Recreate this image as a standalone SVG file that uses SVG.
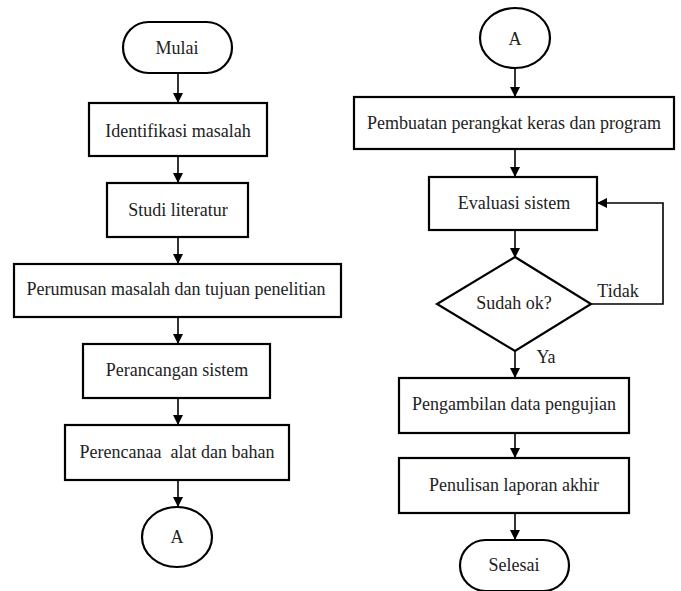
<svg xmlns="http://www.w3.org/2000/svg" width="681" height="591" viewBox="0 0 681 591">
<defs>
<marker id="ah" markerWidth="10" markerHeight="10" refX="9" refY="5" orient="auto" markerUnits="userSpaceOnUse">
<path d="M0,0 L10,5 L0,10 Z" fill="#000"/>
</marker>
<style>
.b{fill:#fff;stroke:#000;stroke-width:2.2}
.t{font-family:"Liberation Serif","DejaVu Serif","Noto Serif",Tinos,FreeSerif,Times,"Times New Roman",serif;font-size:18px;fill:#222;text-anchor:middle;dominant-baseline:central}
.ca{fill:none;stroke:#000;stroke-width:1.6;marker-end:url(#ah)}
</style>
</defs>
<rect width="681" height="591" fill="#fff"/>
<g id="connectors">
<line class="ca" x1="178" y1="73" x2="178" y2="102"/>
<line class="ca" x1="178" y1="156" x2="178" y2="182"/>
<line class="ca" x1="178" y1="237" x2="178" y2="263"/>
<line class="ca" x1="178" y1="317" x2="178" y2="343"/>
<line class="ca" x1="178" y1="398" x2="178" y2="424"/>
<line class="ca" x1="178" y1="480" x2="178" y2="506"/>
<line class="ca" x1="515" y1="68" x2="515" y2="96"/>
<line class="ca" x1="515" y1="149" x2="515" y2="176"/>
<line class="ca" x1="515" y1="230" x2="515" y2="257"/>
<polyline class="ca" points="591,304 663,304 663,203 598,203"/>
<line class="ca" x1="515" y1="351" x2="515" y2="377"/>
<line class="ca" x1="515" y1="433" x2="515" y2="457"/>
<line class="ca" x1="515" y1="513" x2="515" y2="539"/>
<text class="t" x="618" y="291">Tidak</text>
<text class="t" x="546" y="357">Ya</text>
</g>
<g id="mulai">
<rect class="b" x="123" y="22" width="109" height="51" rx="25.5"/>
<text class="t" x="177" y="48">Mulai</text>
</g>
<g id="identifikasi">
<rect class="b" x="89" y="103" width="178" height="53"/>
<text class="t" x="178" y="131">Identifikasi masalah</text>
</g>
<g id="studi">
<rect class="b" x="107" y="183" width="141" height="54"/>
<text class="t" x="178" y="210">Studi literatur</text>
</g>
<g id="perumusan">
<rect class="b" x="14" y="264" width="327" height="53"/>
<text class="t" x="176" y="289">Perumusan masalah dan tujuan penelitian</text>
</g>
<g id="perancangan">
<rect class="b" x="83" y="344" width="187" height="54"/>
<text class="t" x="177" y="370">Perancangan sistem</text>
</g>
<g id="perencanaan">
<rect class="b" x="65" y="425" width="224" height="55"/>
<text class="t" x="177" y="452" xml:space="preserve">Perencanaa  alat dan bahan</text>
</g>
<g id="a-left">
<ellipse class="b" cx="177" cy="537" rx="35" ry="30"/>
<text class="t" x="177" y="537">A</text>
</g>
<g id="a-right">
<ellipse class="b" cx="515" cy="38" rx="35" ry="30"/>
<text class="t" x="515" y="39">A</text>
</g>
<g id="pembuatan">
<rect class="b" x="354" y="97" width="320" height="52"/>
<text class="t" x="514" y="123">Pembuatan perangkat keras dan program</text>
</g>
<g id="evaluasi">
<rect class="b" x="429" y="177" width="168" height="53"/>
<text class="t" x="514" y="203">Evaluasi sistem</text>
</g>
<g id="sudah">
<polygon class="b" points="515,257 591,304 515,351 437,304"/>
<text class="t" x="514" y="303">Sudah ok?</text>
</g>
<g id="pengambilan">
<rect class="b" x="399" y="378" width="230" height="55"/>
<text class="t" x="514" y="404">Pengambilan data pengujian</text>
</g>
<g id="penulisan">
<rect class="b" x="399" y="458" width="230" height="55"/>
<text class="t" x="514" y="485">Penulisan laporan akhir</text>
</g>
<g id="selesai">
<rect class="b" x="460" y="540" width="109" height="51" rx="25.5"/>
<text class="t" x="514" y="565">Selesai</text>
</g>
</svg>
